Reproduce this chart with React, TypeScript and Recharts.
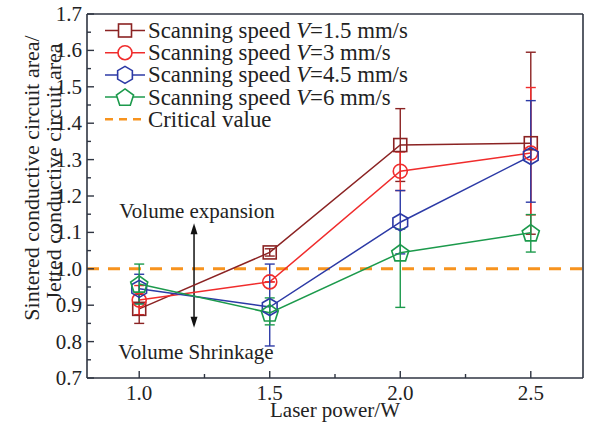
import React from 'react'
import {
  ComposedChart,
  ErrorBar,
  Line,
  ReferenceLine,
  XAxis,
  YAxis,
} from 'recharts'

// laser power (W) on x
const laserPower = [1.0, 1.5, 2.0, 2.5]

// sintered / jetted area ratio, one list per scanning speed
const speed15 = [0.89, 1.045, 1.34, 1.345]
const speed15Err: [number, number][] = [[0.04, 0.04], [0.01, 0.01], [0.1, 0.1], [0.25, 0.25]]
const speed3 = [0.914, 0.964, 1.268, 1.318]
const speed3Err: [number, number][] = [[0.04, 0.04], [0, 0], [0.053, 0.053], [0.17, 0.18]]
const speed45 = [0.945, 0.895, 1.128, 1.31]
const speed45Err: [number, number][] = [[0.04, 0.04], [0.107, 0.118], [0.087, 0.087], [0.127, 0.152]]
const speed6 = [0.958, 0.879, 1.044, 1.099]
const speed6Err: [number, number][] = [[0.055, 0.055], [0.033, 0.041], [0.15, 0.065], [0.053, 0.05]]

const criticalValue = 1.0

const xTicks = [1.0, 1.25, 1.5, 1.75, 2.0, 2.25, 2.5]
const yTicks = [
  0.7, 0.75, 0.8, 0.85, 0.9, 0.95, 1.0, 1.05, 1.1, 1.15, 1.2, 1.25, 1.3, 1.35,
  1.4, 1.45, 1.5, 1.55, 1.6, 1.65, 1.7,
]

const legendLabels = ['1.5', '3', '4.5', '6']

const FONT = "'Liberation Serif', 'Times New Roman', serif"
const AXIS = '#2f3542'
const C15 = '#8b2323'
const C3 = '#f02c2c'
const C45 = '#2c3aa6'
const C6 = '#1c9a4c'
const ORANGE = '#f7931e'

const data = laserPower.map((x, i) => ({
  x,
  s15: speed15[i],
  e15: speed15Err[i],
  s3: speed3[i],
  e3: speed3Err[i],
  s45: speed45[i],
  e45: speed45Err[i],
  s6: speed6[i],
  e6: speed6Err[i],
}))

type Shape = 'square' | 'circle' | 'hexagon' | 'pentagon'

function polygon(cx: number, cy: number, r: number, n: number, start: number) {
  const pts: string[] = []
  for (let k = 0; k < n; k++) {
    const a = ((start + (360 / n) * k) * Math.PI) / 180
    pts.push(`${cx + r * Math.cos(a)},${cy + r * Math.sin(a)}`)
  }
  return pts.join(' ')
}

function Marker({ cx, cy, shape, color, fill = 'none' }: { cx: number; cy: number; shape: Shape; color: string; fill?: string }) {
  if (shape === 'square')
    return <rect x={cx - 6.5} y={cy - 6.5} width={13} height={13} fill={fill} stroke={color} strokeWidth={1.6} />
  if (shape === 'circle') return <circle cx={cx} cy={cy} r={7} fill={fill} stroke={color} strokeWidth={1.6} />
  if (shape === 'hexagon')
    return <polygon points={polygon(cx, cy, 8.5, 6, -90)} fill={fill} stroke={color} strokeWidth={1.6} />
  return <polygon points={polygon(cx, cy + 0.8, 9, 5, -90)} fill={fill} stroke={color} strokeWidth={1.6} />
}

const dotFor = (shape: Shape, color: string) => (p: any) => (
  <Marker key={`${shape}-${p.index}`} cx={p.cx} cy={p.cy} shape={shape} color={color} />
)

function XTick(p: any) {
  const v = p.payload.value
  const major = Math.round(v * 100) % 50 === 0
  return (
    <g>
      <line x1={p.x} x2={p.x} y1={p.y} y2={p.y - (major ? 7 : 4)} stroke={AXIS} strokeWidth={1.4} />
      {major && (
        <text x={p.x} y={p.y + 22} textAnchor="middle" fontSize={21} fontFamily={FONT} fill="#222">
          {v.toFixed(1)}
        </text>
      )}
    </g>
  )
}

function YTick(p: any) {
  const v = p.payload.value
  const major = Math.round(v * 100) % 10 === 0
  return (
    <g>
      <line x1={p.x} x2={p.x + (major ? 7 : 4)} y1={p.y} y2={p.y} stroke={AXIS} strokeWidth={1.4} />
      {major && (
        <text x={p.x - 5} y={p.y + 7} textAnchor="end" fontSize={21} fontFamily={FONT} fill="#222">
          {v.toFixed(1)}
        </text>
      )}
    </g>
  )
}

function ArrowShape(p: any) {
  const { x1, y1, x2, y2 } = p
  return (
    <g>
      <line x1={x1} y1={y1 + 8} x2={x2} y2={y2 - 8} stroke="#111" strokeWidth={1.5} />
      <polygon points={`${x1},${y1} ${x1 - 3.5},${y1 + 11} ${x1 + 3.5},${y1 + 11}`} fill="#111" />
      <polygon points={`${x2},${y2} ${x2 - 3.5},${y2 - 11} ${x2 + 3.5},${y2 - 11}`} fill="#111" />
      <text x={x1 + 3} y={y1 - 5} textAnchor="middle" fontSize={21} fontFamily={FONT} fill="#222">
        Volume expansion
      </text>
      <text x={x2 + 2} y={y2 + 31} textAnchor="middle" fontSize={21} fontFamily={FONT} fill="#222">
        Volume Shrinkage
      </text>
    </g>
  )
}

function Legend() {
  const rows: { shape: Shape; color: string }[] = [
    { shape: 'square', color: C15 },
    { shape: 'circle', color: C3 },
    { shape: 'hexagon', color: C45 },
    { shape: 'pentagon', color: C6 },
  ]
  const y0 = 30.5
  const step = 22.2
  return (
    <svg width={590} height={140} style={{ position: 'absolute', left: 0, top: 0 }}>
      {rows.map((r, i) => {
        const cy = y0 + i * step
        return (
          <g key={i}>
            <line x1={105} x2={145} y1={cy} y2={cy} stroke={r.color} strokeWidth={1.5} />
            <Marker cx={125} cy={cy} shape={r.shape} color={r.color} fill="#fff" />
            <text x={148} y={cy + 7.5} fontSize={22.8} fontFamily={FONT} fill="#222">
              Scanning speed <tspan fontStyle="italic">V</tspan>={legendLabels[i]} mm/s
            </text>
          </g>
        )
      })}
      <line
        x1={105}
        x2={147}
        y1={y0 + 4 * step}
        y2={y0 + 4 * step}
        stroke={ORANGE}
        strokeWidth={2.5}
        strokeDasharray="8 6"
      />
      <text x={148} y={y0 + 4 * step + 7.5} fontSize={22.8} fontFamily={FONT} fill="#222">
        Critical value
      </text>
    </svg>
  )
}

function YTitle() {
  return (
    <g fontSize={22} fontFamily={FONT} fill="#222">
      <text transform="translate(39,178) rotate(-90)" textAnchor="middle">
        Sintered conductive circuit area/
      </text>
      <text transform="translate(61,172) rotate(-90)" textAnchor="middle">
        Jetted conductive circuit area
      </text>
    </g>
  )
}

function XTitle() {
  return (
    <text x={335} y={417} textAnchor="middle" fontSize={21} fontFamily={FONT} fill="#222">
      Laser power/W
    </text>
  )
}

export default function App() {
  return (
    <div style={{ position: 'absolute', left: 0, top: 0, width: 590, height: 424, background: '#fff' }}>
      <ComposedChart width={590} height={424} data={data} margin={{ top: 14, right: 7, bottom: 0, left: 0 }}>
        <XAxis
          dataKey="x"
          type="number"
          domain={[0.8, 2.7]}
          ticks={xTicks}
          tick={<XTick />}
          tickLine={false}
          tickSize={0}
          tickMargin={0}
          height={46}
          axisLine={{ stroke: AXIS, strokeWidth: 1.6 }}
          interval={0}
          label={{ content: () => <XTitle /> }}
        />
        <YAxis
          type="number"
          domain={[0.7, 1.7]}
          ticks={yTicks}
          tick={<YTick />}
          tickLine={false}
          tickSize={0}
          tickMargin={0}
          width={87}
          interval={0}
          allowDataOverflow
          axisLine={{ stroke: AXIS, strokeWidth: 1.6 }}
          label={{ content: () => <YTitle /> }}
        />
        <ReferenceLine y={1.7} stroke={AXIS} strokeWidth={1.6} />
        <ReferenceLine x={2.7} stroke={AXIS} strokeWidth={1.6} />
        <ReferenceLine y={criticalValue} stroke={ORANGE} strokeWidth={3} strokeDasharray="12 9" />
        <ReferenceLine
          segment={[
            { x: 1.21, y: 1.125 },
            { x: 1.21, y: 0.838 },
          ]}
          shape={ArrowShape}
        />
        <Line dataKey="s15" stroke={C15} strokeWidth={1.5} dot={dotFor('square', C15)} isAnimationActive={false}>
          <ErrorBar dataKey="e15" width={5} stroke={C15} strokeWidth={1.4} direction="y" />
        </Line>
        <Line dataKey="s3" stroke={C3} strokeWidth={1.5} dot={dotFor('circle', C3)} isAnimationActive={false}>
          <ErrorBar dataKey="e3" width={5} stroke={C3} strokeWidth={1.4} direction="y" />
        </Line>
        <Line dataKey="s45" stroke={C45} strokeWidth={1.5} dot={dotFor('hexagon', C45)} isAnimationActive={false}>
          <ErrorBar dataKey="e45" width={5} stroke={C45} strokeWidth={1.4} direction="y" />
        </Line>
        <Line dataKey="s6" stroke={C6} strokeWidth={1.5} dot={dotFor('pentagon', C6)} isAnimationActive={false}>
          <ErrorBar dataKey="e6" width={5} stroke={C6} strokeWidth={1.4} direction="y" />
        </Line>
      </ComposedChart>
      <Legend />
    </div>
  )
}
